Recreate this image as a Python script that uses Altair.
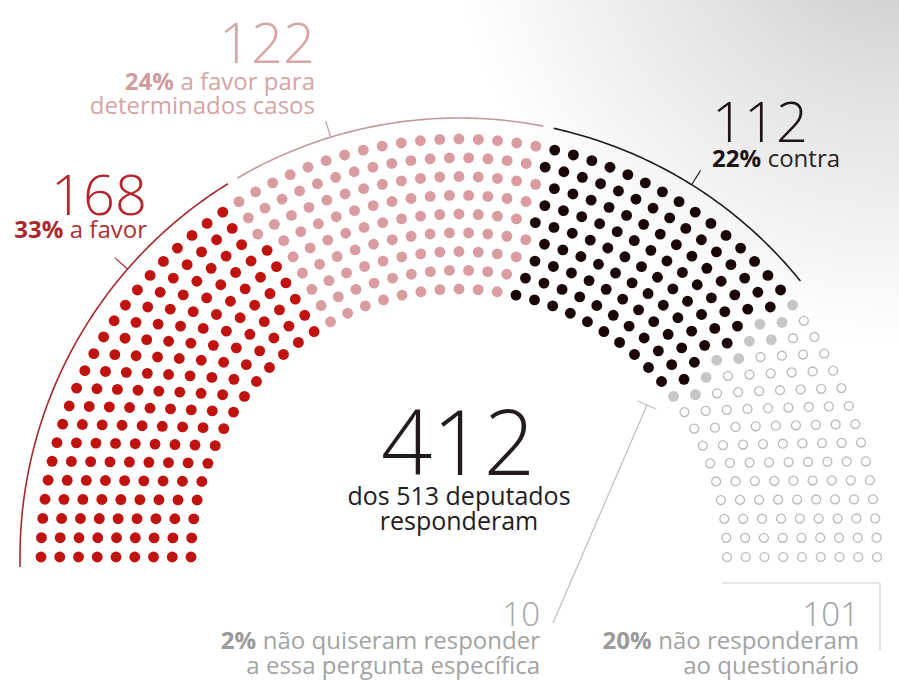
import math
import altair as alt
import pandas as pd

# ---------------- data ----------------
groups = ["a favor", "a favor para determinados casos", "contra",
          "não quiseram responder", "não responderam"]
counts = [168, 122, 112, 10, 101]
percents = ["33%", "24%", "22%", "2%", "20%"]
label_lines = [
    ["a favor"],
    ["a favor para", "determinados casos"],
    ["contra"],
    ["não quiseram responder", "a essa pergunta específica"],
    ["não responderam", "ao questionário"],
]
center_number = "412"
center_lines = ["dos 513 deputados", "responderam"]

# ---------------- styles / layout ----------------
W, H = 899, 686
CX, CY = 459, 557
R_IN, R_OUT, N_ROWS = 268, 418, 9
FONT = "Open Sans"
dot_colors = ["#c0130f", "#d99ca0", "#1a0508", "#c6c6c6"]
empty_stroke = "#bababa"
arc_colors = ["#a8282b", "#c29a9d", "#1e1a1b"]
num_colors = ["#b3262b", "#d6a6a9", "#1c1416", "#a6a6a6", "#a0a0a0"]
pct_colors = ["#a8282b", "#d09ca0", "#1c1416", "#9a9a9a", "#9a9a9a"]
txt_colors = ["#b0302f", "#d4a4a7", "#2a2224", "#a3a3a3", "#a3a3a3"]
center_color = "#231c1e"

# seat layout (parliament hemicycle)
radii = [R_IN + i * (R_OUT - R_IN) / (N_ROWS - 1) for i in range(N_ROWS)]
total = sum(counts)
raw = [total * r / sum(radii) for r in radii]
per_row = [round(v) for v in raw]
diff = total - sum(per_row)
order_fix = sorted(range(N_ROWS), key=lambda i: raw[i] - per_row[i], reverse=(diff > 0))
for k in range(abs(diff)):
    per_row[order_fix[k]] += 1 if diff > 0 else -1

seats = []
for i, (r, n) in enumerate(zip(radii, per_row)):
    for j in range(n):
        a = math.pi * (1 - j / (n - 1))
        seats.append((a, i, r))
seats.sort(key=lambda s: (-s[0], s[1]))
rows = []
k = 0
for g, c in enumerate(counts):
    for _ in range(c):
        a, i, r = seats[k]
        rows.append({"x": CX + r * math.cos(a), "y": CY - r * math.sin(a), "group": groups[g],
                     "gi": g, "col": dot_colors[g] if g < 4 else "#ffffff"})
        k += 1
seat_df = pd.DataFrame(rows)

# sector boundaries in degrees
bounds = [180.0]
for c in counts:
    bounds.append(bounds[-1] - 180.0 * c / total)

ARC_R = 439
arc_spans = [(bounds[0] + 1.3, bounds[1] + 0.7),
             (bounds[1] - 0.7, bounds[2] + 0.7),
             (bounds[2] - 0.7, bounds[3])]
arc_rows = []
for g, (a0, a1) in enumerate(arc_spans):
    steps = 80
    for s in range(steps + 1):
        a = math.radians(a0 + (a1 - a0) * s / steps)
        arc_rows.append({"x": CX + ARC_R * math.cos(a), "y": CY - ARC_R * math.sin(a),
                         "group": groups[g], "o": s, "col": arc_colors[g]})
arc_df = pd.DataFrame(arc_rows)

tick_angles = [139, 107, 58]
tick_rows = []
for g, ang in enumerate(tick_angles):
    a = math.radians(ang)
    tick_rows.append({"x": CX + ARC_R * math.cos(a), "y": CY - ARC_R * math.sin(a),
                      "x2": CX + 456 * math.cos(a), "y2": CY - 456 * math.sin(a),
                      "col": arc_colors[g]})
# leader for the gray group and bracket for the empty group
lx0, ly0, lx1, ly1 = 553, 623, 647, 405
dx, dy = lx1 - lx0, ly1 - ly0
ln = math.hypot(dx, dy)
px, py = -dy / ln * 10, dx / ln * 10
tick_rows += [
    {"x": lx0, "y": ly0, "x2": lx1, "y2": ly1, "col": "#bdbdbd"},
    {"x": lx1 - px, "y": ly1 - py, "x2": lx1 + px, "y2": ly1 + py, "col": "#bdbdbd"},
    {"x": 722, "y": 583, "x2": 880, "y2": 583, "col": "#cfcfcf"},
    {"x": 880, "y": 583, "x2": 880, "y2": 650, "col": "#cfcfcf"},
]
tick_df = pd.DataFrame(tick_rows)

XS = alt.Scale(domain=[0, W], nice=False, zero=False)
YS = alt.Scale(domain=[0, H], nice=False, zero=False, reverse=True)


def X(f="x"):
    return alt.X(f"{f}:Q", scale=XS, axis=None)


def Y(f="y"):
    return alt.Y(f"{f}:Q", scale=YS, axis=None)


COL = alt.Color("col:N", scale=None)

# background gradient
bg = alt.Chart(pd.DataFrame({"x": [0]})).mark_rect(
    fill=alt.RadialGradient(
        gradient="radial", x1=1, y1=0, x2=1, y2=0, r1=0, r2=0.5,
        stops=[alt.GradientStop(color="#c4c4c4", offset=0),
               alt.GradientStop(color="#e2e2e2", offset=0.45),
               alt.GradientStop(color="#ffffff", offset=1)])
).encode(x=alt.value(0), x2=alt.value(W), y=alt.value(0), y2=alt.value(H))

filled = alt.Chart(seat_df[seat_df.gi < 4]).mark_circle(size=118, opacity=1).encode(
    x=X(), y=Y(), color=COL)
empty = alt.Chart(seat_df[seat_df.gi == 4]).mark_circle(
    size=80, opacity=1, fill="white", stroke=empty_stroke, strokeWidth=1.3).encode(x=X(), y=Y())

arcs = alt.Chart(arc_df).mark_line(strokeWidth=1.6).encode(
    x=X(), y=Y(), order="o:Q", detail="group:N", color=COL)
ticks = alt.Chart(tick_df).mark_rule(strokeWidth=1.2).encode(
    x=X(), y=Y(), x2="x2:Q", y2="y2:Q", color=COL)

# text helpers
REG = {' ': .26, 'a': .556, 'c': .476, 'd': .613, 'e': .561, 'f': .339, 'i': .253, 'm': .930,
       'n': .614, 'o': .604, 'p': .613, 'q': .613, 'r': .408, 's': .477, 't': .353, 'u': .614,
       'v': .501, 'ã': .556, 'á': .556, 'í': .253, 'g': .55, 'l': .253}


def tw(s, size):
    return sum(REG.get(ch, .572) for ch in s) * size


layers = []


def text(x, y, s, size, color, align="left", weight="normal"):
    layers.append(alt.Chart(pd.DataFrame({"x": [x], "y": [y], "t": [s]})).mark_text(
        align=align, baseline="alphabetic", font=FONT, fontSize=size, fontWeight=weight,
        color=color).encode(x=X(), y=Y(), text="t:N"))


LBL = 24
BIG = 56
SMALLBIG = 33
# (anchor x, align, number baseline, first line baseline, line step, number size)
label_layout = [
    (147, "right", 215, 238, 24, BIG),
    (315, "right", 63, 90, 24, BIG),
    (712, "left", 142, 167, 24, BIG),
    (540, "right", 626, 649, 25, SMALLBIG),
    (859, "right", 626, 649, 25, SMALLBIG),
]
for g, (ax, al, nb, lb, step, nsize) in enumerate(label_layout):
    text(ax, nb, str(counts[g]), nsize, num_colors[g], al, 300)
    first = label_lines[g][0]
    if al == "right":
        text(ax, lb, first, LBL, txt_colors[g], "right")
        text(ax - tw(" " + first, LBL), lb, percents[g], LBL, pct_colors[g], "right", "bold")
    else:
        pw = (len(percents[g]) - 1) * 0.6 * LBL + 0.86 * LBL
        text(ax, lb, percents[g], LBL, pct_colors[g], "left", "bold")
        text(ax + pw + 0.26 * LBL, lb, first, LBL, txt_colors[g], "left")
    for li, line in enumerate(label_lines[g][1:]):
        text(ax, lb + step * (li + 1), line, LBL, txt_colors[g], al)

text(458, 475, center_number, 90, center_color, "center", 300)
text(459, 505, center_lines[0], 25, center_color, "center")
text(459, 530, center_lines[1], 25, center_color, "center")

chart = alt.layer(bg, arcs, ticks, filled, empty, *layers).properties(
    width=W, height=H, padding=0, autosize=alt.AutoSizeParams(type="none")
).configure_view(stroke=None).configure(background="white")

chart.save("out.html", embed_options={"renderer": "svg", "actions": False})
